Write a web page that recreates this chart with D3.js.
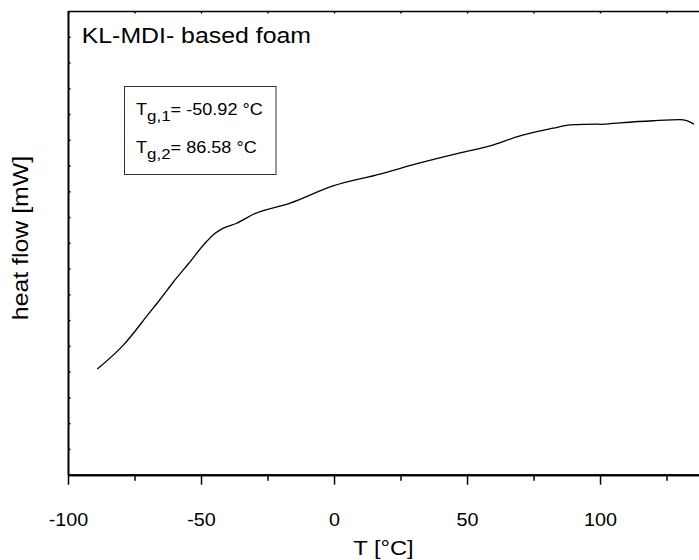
<!DOCTYPE html>
<html>
<head>
<meta charset="utf-8">
<script src="https://cdn.jsdelivr.net/npm/d3@7"></script>
<style>
  html, body { margin: 0; padding: 0; background: #fff; }
  svg { display: block; font-family: "Liberation Sans", Arial, sans-serif; }
</style>
</head>
<body>
<svg id="chart" width="699" height="560"></svg>
<script>
// DSC trace: temperature [°C] and heat flow (arbitrary units, y ticks unlabeled)
const temperature = [-89.0, -79.2, -69.2, -65.4, -60.4, -54.8, -47.9, -44.7, -41.6, -36.6,
  -30.3, -16.5, -0.4, 17.3, 32.3, 47.4, 58.6, 69.9, 82.4, 88.7, 98.8, 100.0, 107.5, 120.0,
  130.1, 132.6, 135.3];
const heatFlow = [4.10, 5.03, 6.31, 6.80, 7.48, 8.18, 9.05, 9.37, 9.57, 9.76,
  10.11, 10.54, 11.21, 11.67, 12.10, 12.49, 12.76, 13.15, 13.45, 13.58, 13.61, 13.60, 13.66, 13.74,
  13.78, 13.74, 13.61];

const xMajorTicks = [-100, -50, 0, 50, 100];
const xMinorTicks = [-75, -25, 25, 75, 125];
const xTopTicks = [-100, -75, -50, -25, 0, 25, 50, 75, 100, 125];
const yTicks = [1, 2, 3, 4, 5, 6, 7, 8, 9, 10, 11, 12, 13, 14, 15, 16, 17];

const titleText = "KL-MDI- based foam";
const tgLabels = [
  { sub: "g,1", rest: "= -50.92 °C" },
  { sub: "g,2", rest: "= 86.58 °C" }
];

const svg = d3.select("#chart");
const plotLeft = 68, plotTop = 11, plotBottom = 474.7, plotRight = 699;
const stretch = 1.13; // glyphs drawn slightly wide

const x = d3.scaleLinear().domain([-100, 137.2]).range([plotLeft, plotRight]);
const y = d3.scaleLinear().domain([0, 18]).range([plotBottom, plotTop]);

function styleAxis(g, w) {
  g.select(".domain").attr("stroke", "#000").attr("stroke-width", w);
  g.selectAll(".tick line").attr("stroke", "#000").attr("stroke-width", 1.5);
  g.selectAll(".tick text").remove();
}

// top frame with small inward ticks
const gTop = svg.append("g").attr("transform", `translate(0,${plotTop})`)
  .call(d3.axisTop(x).tickValues(xTopTicks).tickSize(-2.5).tickSizeOuter(0));
styleAxis(gTop, 1.5);

// left axis, inward ticks, no labels
const gLeft = svg.append("g").attr("transform", `translate(${plotLeft},0)`)
  .call(d3.axisLeft(y).tickValues(yTicks).tickSize(-2.5).tickSizeOuter(0));
styleAxis(gLeft, 2);

// bottom axis: minor ticks
const gMinor = svg.append("g").attr("transform", `translate(0,${plotBottom})`)
  .call(d3.axisBottom(x).tickValues(xMinorTicks).tickSize(6).tickSizeOuter(0));
styleAxis(gMinor, 2);

// bottom axis: major ticks with labels
const gMajor = svg.append("g").attr("transform", `translate(0,${plotBottom})`)
  .call(d3.axisBottom(x).tickValues(xMajorTicks).tickSize(10).tickSizeOuter(0));
styleAxis(gMajor, 2);
gMajor.selectAll(".tick").append("text")
  .attr("transform", `translate(0,51) scale(${stretch},1)`)
  .attr("text-anchor", "middle")
  .attr("fill", "#000")
  .style("font-size", "17.5px")
  .text(d => String(d));

// curve
const line = d3.line()
  .x((d, i) => x(temperature[i]))
  .y((d, i) => y(heatFlow[i]))
  .curve(d3.curveMonotoneX);
svg.append("path")
  .datum(heatFlow)
  .attr("d", line)
  .attr("fill", "none")
  .attr("stroke", "#000")
  .attr("stroke-width", 1.3);

// axis titles
svg.append("text")
  .attr("transform", `translate(${(plotLeft + plotRight) / 2},555) scale(${stretch},1)`)
  .attr("text-anchor", "middle")
  .style("font-size", "21px")
  .text("T [°C]");

svg.append("text")
  .attr("transform", `translate(28,238) rotate(-90) scale(${stretch},1)`)
  .attr("text-anchor", "middle")
  .style("font-size", "22px")
  .text("heat flow [mW]");

// sample title
svg.append("text")
  .attr("transform", `translate(81.7,42.7) scale(${stretch},1)`)
  .style("font-size", "22px")
  .text(titleText);

// glass transition box
svg.append("rect")
  .attr("x", 124.5).attr("y", 86.5)
  .attr("width", 151.5).attr("height", 88)
  .attr("fill", "#fff")
  .attr("stroke", "#333")
  .attr("stroke-width", 1);

tgLabels.forEach((t, i) => {
  const txt = svg.append("text")
    .attr("transform", `translate(136,${115 + i * 38.3}) scale(${stretch},1)`)
    .style("font-size", "16px");
  txt.append("tspan").text("T");
  txt.append("tspan").attr("dy", 6).style("font-size", "15px").text(t.sub);
  txt.append("tspan").attr("dy", -6).text(t.rest);
});
</script>
</body>
</html>
